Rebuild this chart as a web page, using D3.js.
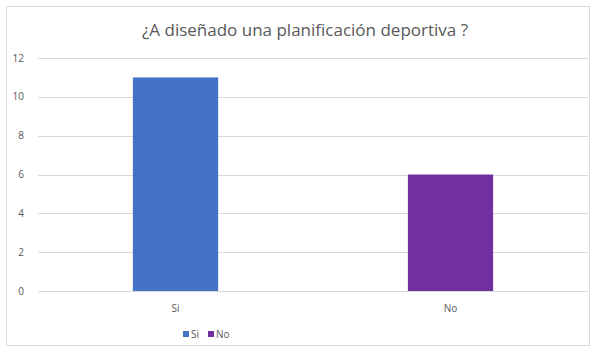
<!DOCTYPE html>
<html>
<head>
<meta charset="utf-8">
<script src="https://cdn.jsdelivr.net/npm/d3@7"></script>
<style>
  body { margin: 0; background: #fff; }
  text { font-family: "Open Sans", "Noto Sans", sans-serif; fill: #595959; }
</style>
</head>
<body>
<svg id="chart"></svg>
<script>
var categories = ["Si", "No"];
var values = [11, 6];
var colors = ["#4472C4", "#7030A0"];
var yTicks = [0, 2, 4, 6, 8, 10, 12];
var title = "¿A diseñado una planificación deportiva ?";

var svgWidth = 597, svgHeight = 354;
var margin = {top: 58, right: 9, bottom: 63, left: 38};
var width = svgWidth - margin.left - margin.right;
var height = svgHeight - margin.top - margin.bottom;

var svg = d3.select("#chart").attr("width", svgWidth).attr("height", svgHeight);

// chart border
svg.append("rect")
    .attr("x", 6.5).attr("y", 6.5)
    .attr("width", 583).attr("height", 339)
    .attr("fill", "#fff").attr("stroke", "#d9d9d9");

svg.append("text")
    .attr("x", 305).attr("y", 36)
    .attr("text-anchor", "middle")
    .style("font-size", "17px")
    .text(title);

var x = d3.scaleBand().domain(categories).range([0, width]).paddingInner(0.69).paddingOuter(0.345);
var y = d3.scaleLinear().domain([0, 12]).range([height, 0]);

var g = svg.append("g").attr("transform", "translate(" + margin.left + "," + margin.top + ")");

// gridlines
g.selectAll(".grid")
    .data(yTicks)
    .enter().append("line")
    .attr("x1", 0).attr("x2", width)
    .attr("y1", function (d) { return Math.round(y(d)) + 0.5; })
    .attr("y2", function (d) { return Math.round(y(d)) + 0.5; })
    .attr("stroke", "#d9d9d9");

// y labels
g.selectAll(".ylab")
    .data(yTicks)
    .enter().append("text")
    .attr("x", -14).attr("y", function (d) { return y(d); })
    .attr("dy", "0.35em")
    .attr("text-anchor", "end")
    .style("font-size", "10px")
    .text(function (d) { return d; });

// bars
g.selectAll(".bar")
    .data(values)
    .enter().append("rect")
    .attr("x", function (d, i) { return x(categories[i]); })
    .attr("width", x.bandwidth())
    .attr("y", function (d) { return y(d); })
    .attr("height", function (d) { return height - y(d); })
    .attr("fill", function (d, i) { return colors[i]; });

// x labels
g.selectAll(".xlab")
    .data(categories)
    .enter().append("text")
    .attr("x", function (d) { return x(d) + x.bandwidth() / 2; })
    .attr("y", height + 21)
    .attr("text-anchor", "middle")
    .style("font-size", "10px")
    .text(function (d) { return d; });

// legend
var legX = [183, 208];
var leg = svg.selectAll(".leg")
    .data(categories)
    .enter().append("g")
    .attr("transform", function (d, i) { return "translate(" + legX[i] + ",331)"; });
leg.append("rect").attr("width", 6).attr("height", 6)
    .attr("fill", function (d, i) { return colors[i]; });
leg.append("text").attr("x", 8).attr("y", 7)
    .style("font-size", "10px")
    .text(function (d) { return d; });
</script>
</body>
</html>
